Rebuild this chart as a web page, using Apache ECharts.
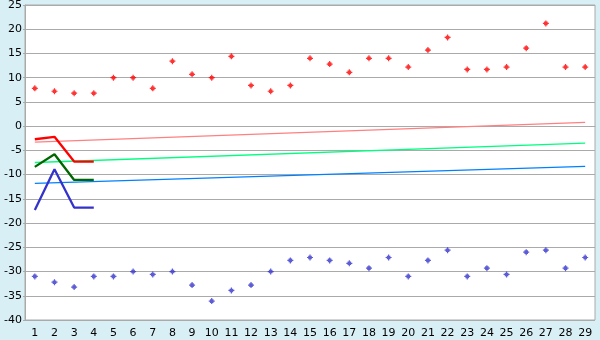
<!DOCTYPE html>
<html><head><meta charset="utf-8">
<script src="https://cdn.jsdelivr.net/npm/echarts@6/dist/echarts.min.js"></script>
<style>html,body{margin:0;padding:0;background:#d9eff6;}#c{width:600px;height:340px;}</style>
</head><body><div id="c"></div>
<script>
var categories = ['1','2','3','4','5','6','7','8','9','10','11','12','13','14','15','16','17','18','19','20','21','22','23','24','25','26','27','28','29'];
var yTicks = [-40,-35,-30,-25,-20,-15,-10,-5,0,5,10,15,20,25];
var redPoints = [7.8,7.2,6.8,6.8,10,10,7.8,13.4,10.7,10,14.4,8.4,7.2,8.4,14,12.8,11.1,14,14,12.2,15.7,18.3,11.7,11.7,12.2,16.1,21.2,12.2,12.2];
var bluePoints = [-31,-32.2,-33.2,-31,-31,-30,-30.6,-30,-32.8,-36.1,-33.9,-32.8,-30,-27.7,-27.1,-27.7,-28.3,-29.3,-27.1,-31,-27.7,-25.6,-31,-29.3,-30.6,-26,-25.6,-29.3,-27.1];
var redLine = [-2.7,-2.2,-7.3,-7.3];
var greenLine = [-8.4,-5.8,-11.1,-11.1];
var blueLine = [-17.3,-8.9,-16.8,-16.8];
var pinkTrend = [-3.3, 0.8];
var greenTrend = [-7.5, -3.5];
var blueTrend = [-11.8, -8.3];

function trend(ends){
  var d = categories.map(function(){return null;});
  d[0] = ends[0]; d[d.length-1] = ends[1];
  return d;
}
var mark = 'path://M2,0H3V1H4V2H5V3H4V4H3V5H2V4H1V3H0V2H1V1H2Z';
var font = 'DejaVu Sans';
var chart = echarts.init(document.getElementById('c'), null, {renderer:'canvas'});
chart.setOption({
  backgroundColor:'#d9eff6',
  animation:false,
  grid:{left:25,right:5,top:5,bottom:20,containLabel:false,outerBoundsMode:'none',show:true,backgroundColor:'#ffffff',borderColor:'#aaaaaa',borderWidth:1},
  xAxis:{type:'category',data:categories,boundaryGap:true,
    axisLine:{lineStyle:{color:'#aaaaaa'}},
    axisTick:{alignWithLabel:true,length:6,lineStyle:{color:'#333333'}},
    axisLabel:{color:'#000',fontFamily:font,fontSize:11,margin:8,interval:0},
    splitLine:{show:false}},
  yAxis:{type:'value',min:yTicks[0],max:yTicks[yTicks.length-1],interval:5,
    axisLine:{show:true,lineStyle:{color:'#aaaaaa'}},
    axisTick:{show:true,length:2,lineStyle:{color:'#aaaaaa'}},
    axisLabel:{color:'#000',fontFamily:font,fontSize:11,margin:3},
    splitLine:{lineStyle:{color:'#aaaaaa',width:1}}},
  series:[
    {type:'line',data:trend(pinkTrend),connectNulls:true,showSymbol:false,lineStyle:{color:'#ff8080',width:1.3}},
    {type:'line',data:trend(greenTrend),connectNulls:true,showSymbol:false,lineStyle:{color:'#00ff80',width:1.3}},
    {type:'line',data:trend(blueTrend),connectNulls:true,showSymbol:false,lineStyle:{color:'#0080ff',width:1.3}},
    {type:'line',data:redLine,showSymbol:false,lineStyle:{color:'#ff0000',width:2.3}},
    {type:'line',data:greenLine,showSymbol:false,lineStyle:{color:'#006600',width:2.3}},
    {type:'line',data:blueLine,showSymbol:false,lineStyle:{color:'#3333cc',width:2.3}},
    {type:'scatter',data:redPoints,symbol:mark,symbolSize:6,itemStyle:{color:'#ff0000'}},
    {type:'scatter',data:bluePoints,symbol:mark,symbolSize:6,itemStyle:{color:'#3333cc'}}
  ]
});
</script></body></html>
